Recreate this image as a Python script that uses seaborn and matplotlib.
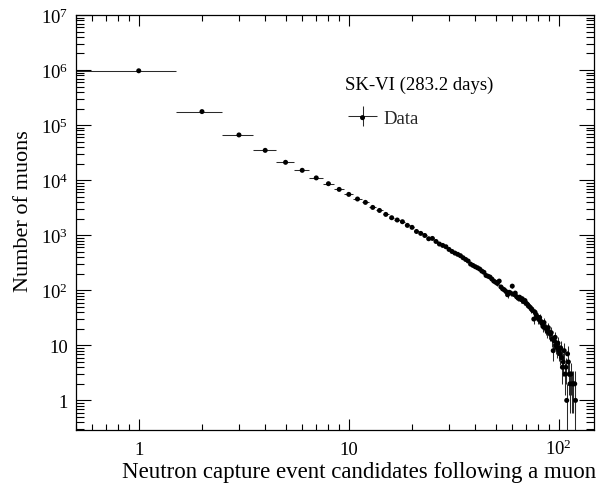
import numpy as np
import pandas as pd
import matplotlib
matplotlib.use("Agg")
import matplotlib.pyplot as plt
import seaborn as sns
from matplotlib.ticker import FixedLocator, FixedFormatter, LogLocator, NullFormatter
from matplotlib.legend_handler import HandlerErrorbar, HandlerTuple
from matplotlib.container import ErrorbarContainer

# ---------------- data ----------------
n_candidates = list(range(1, 121))
n_muons = [
    970000, 176000, 66300, 34800, 21100, 15100, 11000, 8630, 6800, 5520,   # 1-10
    4550, 3950, 3200, 2820, 2390, 2080, 1890, 1760, 1510, 1390,            # 11-20
    1170, 1080, 990, 863, 875, 771, 692, 653, 618, 552,                    # 21-30
    507, 474, 450, 425, 390, 363, 340, 299, 283, 268,                      # 31-40
    256, 243, 223, 212, 186, 180, 174, 160, 147, 140,                      # 41-50
    133, 147, 115, 106, 102, 95, 83, 92, 89, 119,                          # 51-60
    84, 89, 76, 72, 75, 68, 70, 62, 65, 58,                                # 61-70
    55, 51, 49, 46, 43, 30, 40, 36, 33, 30,                                # 71-80
    32, 27, 25, 22, 26, 21, 20, 18, 21, 17,                                # 81-90
    16, 17, 13, 8, 12, 14, 10, 9, 11, 8,                                   # 91-100
    7, 9, 6, 4, 5, 8, 3, 4, 1, 7,                                          # 101-110
    5, 3, 2, 3, 0, 2, 2, 0, 2, 1,                                          # 111-120
]
x_tick_values = [1, 10, 100]
x_tick_labels = ["1", "10", r"$10^{2}$"]
y_tick_values = [1, 10, 1e2, 1e3, 1e4, 1e5, 1e6, 1e7]
y_tick_labels = ["1", "10", r"$10^{2}$", r"$10^{3}$", r"$10^{4}$",
                 r"$10^{5}$", r"$10^{6}$", r"$10^{7}$"]
series_label = "Data"
sample_label = "SK-VI (283.2 days)"
x_title = "Neutron capture event candidates following a muon"
y_title = "Number of muons"

# ---------------- style ----------------
sns.set_theme(style="ticks")
plt.rcParams["font.family"] = ["Liberation Serif", "DejaVu Serif"]
plt.rcParams["mathtext.fontset"] = "custom"
plt.rcParams["mathtext.rm"] = "Liberation Serif"
plt.rcParams["mathtext.it"] = "Liberation Serif:italic"
plt.rcParams["mathtext.bf"] = "Liberation Serif:bold"

df = pd.DataFrame({"n": n_candidates, "count": n_muons})
df = df[df["count"] > 0].reset_index(drop=True)
err = np.sqrt(df["count"].to_numpy(dtype=float))
err_lo = np.minimum(err, df["count"].to_numpy(dtype=float) - 1e-3)
err_hi = err

W, H = 598, 485
fig = plt.figure(figsize=(W / 100, H / 100), dpi=100)
fig.patch.set_facecolor("white")
L, R, T, B = 75.5, 594, 16, 431
ax = fig.add_axes([L / W, (H - B) / H, (R - L) / W, (B - T) / H])
ax.set_facecolor("white")
ax.set_xscale("log")
ax.set_yscale("log")

eb = ax.errorbar(df["n"], df["count"], xerr=0.5, yerr=[err_lo, err_hi],
                 fmt="none", ecolor="#2a2a2a", elinewidth=0.75, capsize=0, zorder=2)
sns.scatterplot(data=df, x="n", y="count", ax=ax, color="black", s=13,
                edgecolor="none", linewidth=0, zorder=3, legend=False)
pts = ax.collections[-1]

ax.set_xlim(0.5, 147)
ax.set_ylim(0.29, 1e7)

ax.xaxis.set_major_locator(FixedLocator(x_tick_values))
ax.xaxis.set_major_formatter(FixedFormatter(x_tick_labels))
ax.xaxis.set_minor_locator(LogLocator(base=10, subs=np.arange(2, 10), numticks=50))
ax.xaxis.set_minor_formatter(NullFormatter())
ax.yaxis.set_major_locator(FixedLocator(y_tick_values))
ax.yaxis.set_major_formatter(FixedFormatter(y_tick_labels))
ax.yaxis.set_minor_locator(LogLocator(base=10, subs=np.arange(2, 10), numticks=50))
ax.yaxis.set_minor_formatter(NullFormatter())

ax.tick_params(which="both", direction="in", top=True, right=True,
               width=0.8, color="black", labelcolor="black")
ax.tick_params(axis="x", which="major", length=7.9, pad=17, labelsize=13.5)
ax.tick_params(axis="x", which="minor", length=4.3)
ax.tick_params(axis="y", which="major", length=10.8, pad=5.4, labelsize=13.5)
ax.tick_params(axis="y", which="minor", length=5.5)
for lab in ax.get_xticklabels():
    lab.set_verticalalignment("baseline")

for sp in ax.spines.values():
    sp.set_visible(True)
    sp.set_color("black")
    sp.set_linewidth(0.9)
ax.grid(False)

ax.set_xlabel(x_title, fontsize=16.5, ha="right", va="baseline", color="black")
ax.xaxis.set_label_coords((596 - L) / (R - L), (B - 478) / (B - T))
ax.set_ylabel(y_title, fontsize=16, color="black")
ax.yaxis.label.set_rotation_mode("default")
ax.yaxis.label.set_ha("center")
ax.yaxis.label.set_va("center")
ax.yaxis.set_label_coords((24 - L) / (R - L), (B - 211) / (B - T))

ax.text((345 - L) / (R - L), (B - 90) / (B - T), sample_label,
        transform=ax.transAxes, fontsize=13.5, ha="left", va="baseline", color="black")

leg = ax.legend([(eb, pts)], [series_label],
                handler_map={tuple: HandlerTuple(ndivide=1, pad=0),
                             ErrorbarContainer: HandlerErrorbar(xerr_size=0.77, yerr_size=0.53)},
                loc="center left",
                bbox_to_anchor=((348 - L) / (R - L), (B - 119) / (B - T)),
                frameon=False, fontsize=13.5, handlelength=1.55, handletextpad=0.32,
                borderpad=0, borderaxespad=0)

fig.savefig("out.png", dpi=100, facecolor="white")
